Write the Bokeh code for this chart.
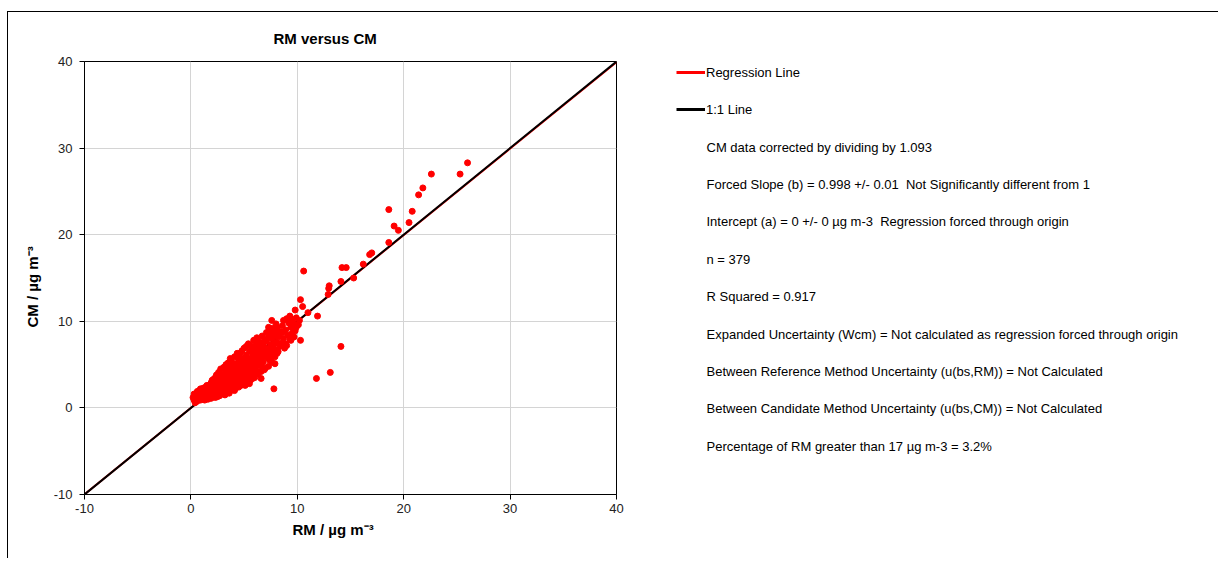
from bokeh.plotting import figure
from bokeh.models import Label, Legend, LegendItem, FixedTicker, Title
from bokeh.layouts import row
from bokeh.embed import file_html
from bokeh.resources import INLINE

# ---------------- data ----------------
title_text = "RM versus CM"
x_label = "RM / µg m⁻³"
y_label = "CM / µg m⁻³"
axis_ticks = [-10, 0, 10, 20, 30, 40]
axis_tick_labels = ["-10", "0", "10", "20", "30", "40"]
axis_range = [-10, 40]
reg_slope = 0.998

# dense cluster (RM, CM)
cluster = [
    (0.2,1.2),(0.3,0.9),(0.3,1.6),(0.4,1.1),(0.5,1.4),(0.5,0.7),(0.6,1.9),(0.6,1.2),(0.7,1.0),(0.7,1.5),
    (0.8,1.3),(0.8,2.0),(0.9,0.9),(0.9,1.6),(1.0,1.2),(1.0,1.8),(1.1,1.4),(1.1,2.2),(1.2,1.0),(1.2,1.6),
    (1.3,1.9),(1.3,1.3),(1.4,1.7),(1.4,2.4),(1.5,1.1),(1.5,1.5),
    (1.6,2.0),(1.6,1.3),(1.7,1.7),(1.7,2.6),(1.8,1.4),(1.8,2.2),(1.9,1.9),(1.9,2.9),(2.0,1.6),(2.0,2.4),
    (2.1,2.1),(2.1,1.3),(2.2,2.7),(2.2,1.8),(2.3,2.3),(2.3,3.1),(2.4,1.5),(2.4,2.0),(2.5,2.6),(2.5,3.5),
    (2.6,1.9),(2.6,2.3),(2.7,2.9),(2.7,1.4),(2.8,2.1),(2.8,3.3),(2.9,2.6),(2.9,1.8),(3.0,2.3),(3.0,3.0),(3.0,3.9),
    (3.1,1.6),(3.1,2.7),(3.2,3.4),(3.2,2.1),(3.3,2.9),(3.3,4.2),(3.4,2.4),(3.4,3.6),(3.5,3.1),(3.5,1.9),
    (3.5,4.6),(3.6,2.7),(3.6,3.8),(3.7,3.3),(3.7,2.2),(3.8,4.1),(3.8,2.9),(3.9,3.5),(3.9,5.0),(4.0,2.5),
    (4.0,3.9),(4.0,3.1),(4.1,4.4),(4.1,2.0),(4.2,3.6),(4.2,2.8),(4.3,4.8),(4.3,3.3),(4.4,4.1),(4.4,2.5),
    (4.5,3.8),(4.5,5.4),
    (4.6,3.0),(4.6,4.5),(4.7,3.5),(4.7,5.0),(4.8,4.2),(4.8,2.7),(4.9,3.9),(4.9,5.7),(5.0,4.6),(5.0,3.3),
    (5.1,5.2),(5.1,4.0),(5.2,3.6),(5.2,6.1),(5.3,4.8),(5.3,4.3),(5.4,5.5),(5.4,3.1),(5.5,4.5),(5.5,6.5),
    (5.6,5.1),(5.6,3.9),(5.7,4.7),(5.7,5.8),(5.8,4.2),(5.8,6.9),(5.9,5.4),(5.9,3.6),(6.0,5.0),(6.0,6.2),
    (6.1,4.5),(6.1,7.2),(6.2,5.7),(6.2,5.2),(6.3,6.6),(6.3,4.1),(6.4,6.0),(6.5,5.4),(6.5,7.0),(6.6,4.8),
    (6.6,6.4),(6.7,5.9),(6.8,7.4),(6.8,5.3),(6.9,6.8),(7.0,6.2),(7.0,4.6),(7.1,7.7),(7.2,5.8),(7.2,6.9),
    (7.3,8.2),(7.4,6.5),(7.4,5.5),(7.5,7.3),
    (7.6,6.1),(7.6,8.0),(7.7,7.0),(7.8,8.6),(7.9,6.7),(7.9,5.1),(8.0,7.6),(8.1,9.1),(8.1,6.3),(8.2,8.2),
    (8.3,7.1),(8.4,8.8),(8.5,7.5),(8.6,9.5),(8.7,8.0),(8.8,6.9),(8.9,9.0),(8.9,7.4),
    (9.1,8.4),(9.2,9.8),(9.3,7.9),(9.4,9.3),(9.5,10.2),(9.5,8.6),(9.7,9.7),(9.8,8.9),(9.9,10.4),(10.1,9.6),
    (10.2,10.1),(7.6,10.1),(7.3,9.3),(8.1,9.3),(5.9,7.8),(4.35,6.3),(3.7,5.7),(5.5,2.8),(9.5,8.4),
    (0.4,0.6),(0.6,0.8),(0.9,2.2),(1.2,2.3),(1.5,2.6),(1.6,1.0),(1.9,1.1),(2.0,3.2),(1.3,0.9),(0.8,1.7),
    (1.1,1.0),(1.7,2.1),
    (2.2,3.4),(2.4,3.8),(2.6,4.1),(2.8,4.5),(2.3,1.2),(2.7,1.6),(2.9,3.6),(2.5,1.3),(2.1,2.8),(2.8,2.6),
    (3.1,4.7),(3.3,5.0),(3.5,5.2),(3.6,1.7),(3.9,2.1),(3.2,1.5),(3.4,4.9),(3.7,4.4),(3.8,5.5),(3.3,3.7),
    (3.6,3.2),(3.9,4.3),
    (4.1,5.9),(4.2,5.1),(4.4,6.0),(4.6,6.3),(4.8,6.6),(4.2,2.3),(4.5,2.4),(4.7,2.6),(4.9,2.9),(4.3,3.9),
    (4.6,5.8),(4.9,4.7),(4.0,4.7),
    (5.0,6.9),(5.2,7.1),(5.4,7.4),(5.6,7.2),(5.1,2.6),(5.3,2.9),(5.6,3.2),(5.8,3.4),(5.2,4.9),(5.5,5.6),
    (5.7,6.5),(5.9,6.2),(5.0,5.5),(5.4,4.5),
    (6.0,7.8),(6.2,8.1),(6.4,7.6),(6.7,8.3),(6.0,3.5),(6.3,3.9),(6.6,4.2),(6.9,4.4),(6.4,5.1),(6.7,6.9),
    (6.9,7.9),(6.2,6.6),(6.5,6.2),
    (7.1,8.7),(7.4,9.0),(7.7,9.2),(8.0,9.7),(7.3,4.8),(7.6,5.3),(7.9,5.9),(8.2,6.5),(7.8,7.4),(8.3,8.4),
    (7.5,8.4),(8.0,8.3),
    (8.7,10.1),(9.0,10.3),(9.3,10.6),(9.6,9.2),(9.0,7.2),(9.4,7.8),(9.7,8.2),(8.6,8.7),(9.9,9.3),
]
# sparse points (RM, CM)
sparse = [
    (26.0,28.3),(25.3,27.0),(22.6,27.0),(21.8,25.4),(21.4,24.6),(18.6,22.9),(20.8,22.7),(20.5,21.4),
    (19.1,21.0),(19.5,20.5),(18.6,19.1),(17.0,17.9),(16.8,17.7),(16.2,16.6),(14.2,16.2),(14.6,16.2),
    (15.3,15.0),(14.1,14.6),(13.0,14.1),(12.95,13.8),(12.9,13.1),(10.6,15.8),(10.3,12.5),(10.5,11.7),
    (9.8,11.3),(11.0,11.0),(11.9,10.6),(10.3,7.8),(14.1,7.1),(13.1,4.1),(11.8,3.4),(7.8,2.2),(6.6,3.4),
]
rm = [a for a, b in cluster + sparse]
cm = [b for a, b in cluster + sparse]

legend_labels = ["Regression Line", "1:1 Line"]
info_lines = [
    "CM data corrected by dividing by 1.093",
    "Forced Slope (b) = 0.998 +/- 0.01 \u00a0Not Significantly different from 1",
    "Intercept (a) = 0 +/- 0 µg m-3 \u00a0Regression forced through origin",
    "n = 379",
    "R Squared = 0.917",
    "Expanded Uncertainty (Wcm) = Not calculated as regression forced through origin",
    "Between Reference Method Uncertainty (u(bs,RM)) = Not Calculated",
    "Between Candidate Method Uncertainty (u(bs,CM)) = Not Calculated",
    "Percentage of RM greater than 17 µg m-3 = 3.2%",
]

FONT = "Liberation Sans"

# page geometry: content starts at (8, 12) because of the framed wrapper
OX, OY = 8, 12
H = 546
LW = 650 - OX
RW = 568
FRAME_BOTTOM = 494   # page y of the plot frame bottom (frames of the row are aligned)

# ---------------- left figure (scatter) ----------------
p = figure(width=LW, height=H, x_range=tuple(axis_range), y_range=tuple(axis_range),
           output_backend="svg", toolbar_location=None, title=title_text,
           min_border_left=84 - OX, min_border_top=61 - OY,
           min_border_bottom=(OY + H) - FRAME_BOTTOM, min_border_right=650 - 616)
p.background_fill_color = "white"
p.border_fill_color = "white"
p.outline_line_color = "black"
p.outline_line_width = 1

p.title.align = "left"
p.title.offset = 273 - 84
p.title.standoff = 30
p.title.text_font = FONT
p.title.text_font_size = "15px"
p.title.text_font_style = "bold"
p.title.text_color = "black"

for ax in (p.xaxis[0], p.yaxis[0]):
    ax.ticker = FixedTicker(ticks=axis_ticks)
    ax.major_label_overrides = dict(zip(axis_ticks, axis_tick_labels))
    ax.minor_tick_line_color = None
    ax.major_tick_in = 0
    ax.major_tick_out = 5
    ax.axis_line_color = "black"
    ax.major_tick_line_color = "black"
    ax.major_label_text_font = FONT
    ax.major_label_text_font_size = "13px"
    ax.major_label_text_color = "#222222"
p.xaxis[0].major_label_standoff = 4
p.yaxis[0].major_label_standoff = 7

for g in (p.xgrid[0], p.ygrid[0]):
    g.ticker = FixedTicker(ticks=axis_ticks)
    g.grid_line_color = "#d4d4d4"
    g.grid_line_width = 1

xt = Title(text=x_label, align="left", offset=292 - 84, vertical_align="top", standoff=10,
           text_font=FONT, text_font_size="15px", text_font_style="bold", text_color="black")
p.add_layout(xt, "below")
yt = Title(text=y_label, align="left", offset=494 - 327, standoff=20,
           text_font=FONT, text_font_size="15px", text_font_style="bold", text_color="black")
p.add_layout(yt, "left")

reg = p.line(axis_range, [reg_slope * v for v in axis_range], line_color="red", line_width=2)
one = p.line(axis_range, axis_range, line_color="black", line_width=2)
p.scatter(rm, cm, size=6, marker="circle", fill_color="#ff0000", line_color="#ff0000")

# ---------------- right figure (legend + statistics text) ----------------
q = figure(width=RW, height=H, x_range=(0, 1), y_range=(0, 1), output_backend="svg",
           toolbar_location=None, title=None, x_axis_location=None, y_axis_location=None,
           min_border_left=0, min_border_right=0, min_border_top=61 - OY,
           min_border_bottom=(OY + H) - FRAME_BOTTOM)
q.grid.visible = False
q.outline_line_color = None
q.background_fill_color = "white"
q.border_fill_color = "white"

# legend proxies: the same line styles, with data that lies outside this panel's view
proxy_red = q.line([5, 6], [5, 6], line_color="red", line_width=3)
proxy_blk = q.line([5, 6], [5, 6], line_color="black", line_width=3)
# legend location: (x of left edge, height of its bottom edge above the frame bottom)
legend = Legend(items=[LegendItem(label=legend_labels[0], renderers=[proxy_red]),
                       LegendItem(label=legend_labels[1], renderers=[proxy_blk])],
                location=(676 - 650, FRAME_BOTTOM - 119), border_line_alpha=0,
                background_fill_alpha=0, padding=0, margin=0, spacing=17,
                glyph_width=29, glyph_height=20, label_height=20, label_standoff=1,
                label_text_font=FONT, label_text_font_size="13px", label_text_color="black")
q.add_layout(legend)

ys = [147, 184, 221, 259, 296, 334, 371, 408, 446]
for t, yy in zip(info_lines, ys):
    q.add_layout(Label(x=706 - 650, y=FRAME_BOTTOM - yy, x_units="screen", y_units="screen",
                       text=t, text_font=FONT, text_font_size="13px", text_color="black",
                       text_align="left", text_baseline="middle"))

layout = row(p, q, spacing=0,
             styles={"border-top": "1px solid black", "border-left": "1px solid black",
                     "margin-left": "7px", "margin-top": "11px"})

open("out.html", "w").write(file_html(layout, INLINE))
